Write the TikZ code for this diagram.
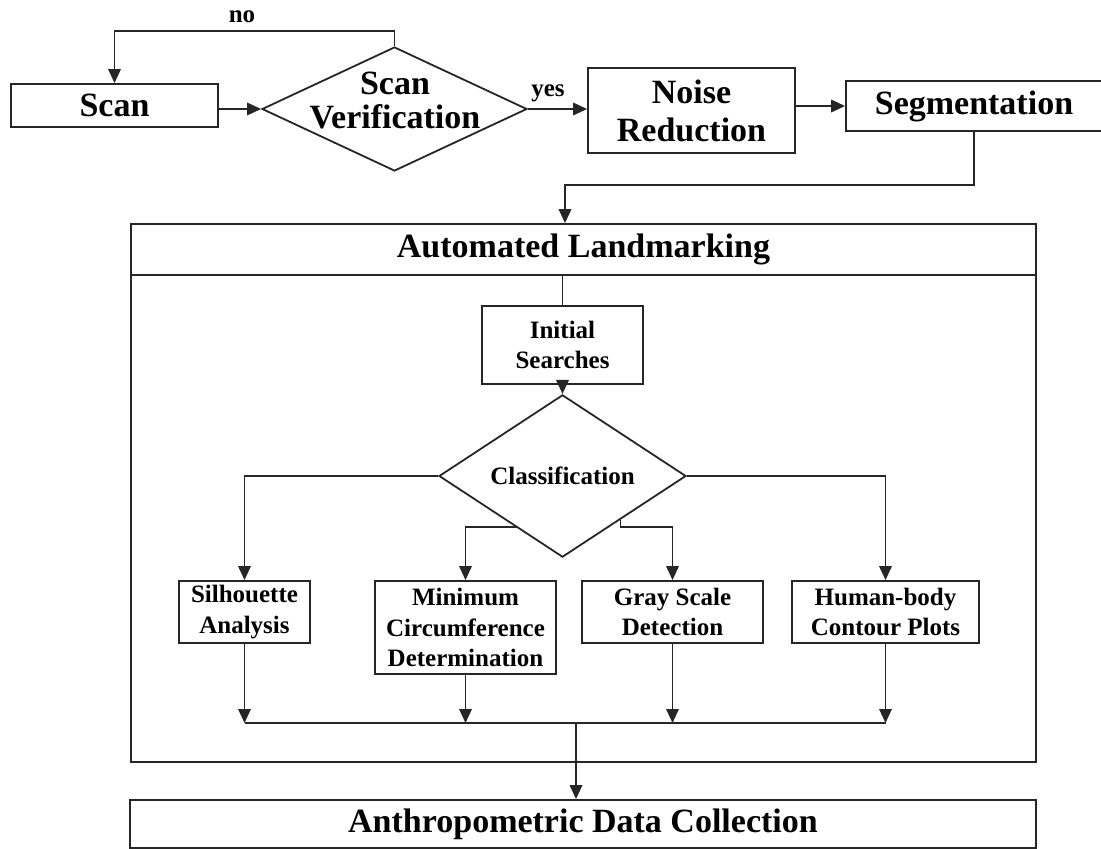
\documentclass[tikz,border=0pt]{standalone}
\usepackage{fontspec}
\setmainfont{Liberation Serif}
\usetikzlibrary{arrows.meta,shapes.geometric,calc}
\begin{document}
\begin{tikzpicture}[x=1pt,y=-1pt,
  line/.style={draw=black!85, line width=1.8pt},
  arr/.style={line, -{Triangle[length=14pt,width=12.5pt]}},
  bigbox/.style={rectangle, draw=black!85, line width=1.8pt, inner sep=0pt, align=center,
    font=\bfseries\fontsize{34}{38}\selectfont},
  smallbox/.style={rectangle, draw=black!85, line width=1.8pt, inner sep=0pt, align=center,
    font=\bfseries\fontsize{25}{30.5}\selectfont},
  decision/.style={diamond, draw=black!85, line width=1.8pt, inner sep=0pt, align=center},
  lbl/.style={inner sep=0pt, font=\bfseries\fontsize{25}{28}\selectfont},
]
\useasboundingbox (0,0) rectangle (1101,849);

% ---- top row: acquisition and preprocessing ----
\node[bigbox, minimum width=207pt, minimum height=43pt] (scan) at (114.5,105.5) {Scan};
\node[decision, minimum width=265pt, minimum height=124pt] (verif) at (394.5,109) {};
\node[inner sep=0pt, align=center, font=\bfseries\fontsize{34}{34}\selectfont] (veriftext) at (395,100) {Scan\\Verification};
\node[bigbox, minimum width=207pt, minimum height=85pt] (noise) at (691.5,110.5) {Noise\\Reduction};
\node[bigbox, minimum width=256pt, minimum height=50pt] (seg) at (974,106) {Segmentation};

\node[lbl] (nolbl) at (242,17) {no};
\node[lbl] (yeslbl) at (548,93) {yes};

\draw[arr] (scan.east |- verif.west) -- (verif.west);
\draw[arr] (verif.north) -- ++(0,-15) -| (scan.north);
\draw[arr] (verif.east) -- (noise.west |- verif.east);
\draw[arr] (noise.east |- seg.west) -- (seg.west);

% ---- automated landmarking frame ----
\node[bigbox, minimum width=905pt, minimum height=51pt] (land) at (583.5,249.5) {Automated Landmarking};
\node[rectangle, draw=black!85, line width=1.8pt, minimum width=905pt, minimum height=487pt, inner sep=0pt] (landbody) at (583.5,518.5) {};

\coordinate (c1) at (565,185);
\draw[arr] (seg.south) |- (c1) -- (c1 |- land.north);

\node[smallbox, minimum width=161pt, minimum height=78pt] (init) at (562.5,345) {Initial\\Searches};
\node[decision, minimum width=247pt, minimum height=104pt, font=\bfseries\fontsize{25}{30}\selectfont] (cls) at (562.5,476) {Classification};

\draw[line] (init.north |- land.south) -- (init.north);
\draw[arr] (init.south) -- (cls.north);

% ---- landmarking methods ----
\node[smallbox, minimum width=131pt, minimum height=62pt] (sil) at (244.5,612) {Silhouette\\Analysis};
\node[smallbox, minimum width=181pt, minimum height=93pt] (minc) at (465.5,627.5) {Minimum\\Circumference\\Determination};
\node[smallbox, minimum width=181pt, minimum height=62pt] (gray) at (672.5,612) {Gray Scale\\Detection};
\node[smallbox, minimum width=187pt, minimum height=62pt] (human) at (885.5,612) {Human-body\\Contour Plots};

\path (cls.west) -- (cls.south) coordinate[pos=0.632] (cm);
\path (cls.east) -- (cls.south) coordinate[pos=0.534] (cg);
\coordinate (split) at (562.5,527);

\draw[arr] (cls.west) -| (sil.north);
\draw[arr] (cm) -- (cm |- split) -| (minc.north);
\draw[arr] (cg) -- (cg |- split) -| (gray.north);
\draw[arr] (cls.east) -| (human.north);

% ---- merge into data collection ----
\coordinate (join) at (576,723);
\draw[arr] (sil.south) -- (sil.south |- join);
\draw[arr] (minc.south) -- (minc.south |- join);
\draw[arr] (gray.south) -- (gray.south |- join);
\draw[arr] (human.south) -- (human.south |- join);
\draw[line] (sil.south |- join) -- (human.south |- join);

\node[bigbox, minimum width=906pt, minimum height=48pt] (anth) at (583,824) {Anthropometric Data Collection};
\draw[arr] (join) -- (join |- anth.north);
\end{tikzpicture}
\end{document}
